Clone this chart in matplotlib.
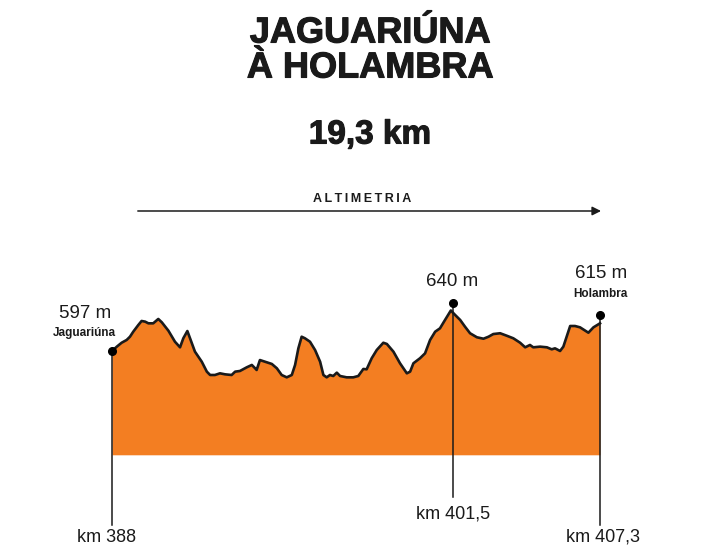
import numpy as np
import matplotlib.pyplot as plt
import matplotlib.patheffects as pe

plt.rcParams['font.family'] = ['Liberation Sans', 'DejaVu Sans']

# perfil (km, altitude em m)
km = [388.00, 388.19, 388.38, 388.58, 388.71, 388.84, 389.04, 389.17, 389.31, 389.44,
      389.63, 389.83, 389.97, 390.23, 390.49, 390.69, 390.82, 390.98, 391.11, 391.28,
      391.55, 391.75, 391.88, 392.07, 392.27, 392.47, 392.73, 392.87, 393.06, 393.33,
      393.53, 393.66, 393.72, 393.85, 394.05, 394.32, 394.52, 394.71, 394.91, 395.11,
      395.24, 395.37, 395.50, 395.63, 395.83, 396.03, 396.23, 396.36, 396.49, 396.62,
      396.75, 396.89, 397.02, 397.28, 397.54, 397.74, 397.94, 398.07, 398.27, 398.47,
      398.73, 398.87, 399.13, 399.39, 399.66, 399.79, 399.92, 400.18, 400.38, 400.58,
      400.78, 400.97, 401.17, 401.40, 401.57, 401.77, 401.96, 402.16, 402.43, 402.69,
      402.89, 403.08, 403.35, 403.61, 403.87, 404.14, 404.34, 404.53, 404.66, 404.93,
      405.20, 405.39, 405.52, 405.72, 405.85, 406.12, 406.31, 406.51, 406.84, 407.04,
      407.30]
alt = [597.0, 600.9, 604.4, 606.9, 609.8, 614.3, 620.3, 623.9, 623.3, 621.8,
       621.8, 625.7, 622.7, 615.2, 605.3, 600.3, 608.4, 614.9, 606.9, 596.4,
       587.4, 578.5, 575.5, 575.5, 577.0, 576.1, 575.5, 578.5, 579.1, 582.4,
       584.5, 581.5, 580.0, 588.9, 587.4, 585.4, 581.5, 575.5, 573.4, 575.5,
       584.5, 599.4, 609.8, 608.4, 605.3, 597.9, 587.4, 575.5, 573.4, 575.5,
       574.6, 577.6, 574.6, 573.4, 573.4, 574.6, 580.9, 580.6, 590.5, 597.9,
       604.4, 603.3, 596.4, 586.0, 577.0, 578.5, 586.0, 590.5, 594.9, 606.9,
       614.3, 617.3, 624.8, 633.3, 629.3, 624.8, 618.8, 612.9, 609.3, 608.0,
       609.8, 612.2, 612.9, 610.7, 608.4, 604.4, 600.3, 602.4, 600.3, 600.9,
       600.3, 598.5, 599.4, 597.0, 600.9, 619.4, 619.4, 618.2, 613.4, 618.2,
       621.8]
base_alt = 504

# marcos
mark_km = [388.0, 401.5, 407.3]
mark_alt = [597, 640, 629]
mark_bottom = [441, 466, 441]
alt_labels = ['597 m', '640 m', '615 m']
place_labels = ['Jaguariúna', '', 'Holambra']
km_labels = ['km 388', 'km 401,5', 'km 407,3']

orange = '#f37e22'
ink = '#1a1a1a'

fig = plt.figure(figsize=(7.09, 5.51), dpi=100)
ax = fig.add_axes([0, 0, 1, 1])
ax.set_xlim(383.57, 411.61)
ax.set_ylim(417.8, 911.5)
ax.axis('off')

ax.fill_between(km, alt, base_alt, color=orange, lw=0, zorder=1)
ax.plot(km, alt, color=ink, lw=1.9, solid_joinstyle='round', zorder=2)

for i in range(3):
    ax.plot([mark_km[i], mark_km[i]], [mark_bottom[i], mark_alt[i]], color=ink, lw=1.1, zorder=3)
    ax.plot(mark_km[i], mark_alt[i], 'o', color='black', ms=5.5, zorder=4)

# rótulos de altitude / local
ax.text(386.95, 631, alt_labels[0], fontsize=13.5, ha='center', va='center', color=ink)
ax.text(386.9, 613, place_labels[0], fontsize=8.5, fontweight='bold', ha='center', va='center', color=ink)
ax.text(401.45, 659, alt_labels[1], fontsize=13.5, ha='center', va='center', color=ink)
ax.text(407.35, 666, alt_labels[2], fontsize=13.5, ha='center', va='center', color=ink)
ax.text(407.3, 648, place_labels[2], fontsize=8.5, fontweight='bold', ha='center', va='center', color=ink)

ax.text(387.8, 430, km_labels[0], fontsize=13, ha='center', va='center', color=ink)
ax.text(401.5, 451, km_labels[1], fontsize=13, ha='center', va='center', color=ink)
ax.text(407.4, 430, km_labels[2], fontsize=13, ha='center', va='center', color=ink)

# título
thick = [pe.withStroke(linewidth=0.8, foreground=ink)]
fig.text(0.522, 1 - 33/551, 'JAGUARIÚNA', fontsize=26, fontweight='heavy', ha='center', va='center',
         color=ink, path_effects=thick)
fig.text(0.522, 1 - 68/551, 'À HOLAMBRA', fontsize=26, fontweight='heavy', ha='center', va='center',
         color=ink, path_effects=thick)
fig.text(0.522, 1 - 135/551, '19,3 km', fontsize=24, fontweight='heavy', ha='center', va='center',
         color=ink, path_effects=thick)

# seta altimetria
arrow_y = 911.5 - 211*0.896
ax.annotate('', xy=(407.45, arrow_y), xytext=(383.57 + 135/25.28, arrow_y),
            arrowprops=dict(arrowstyle='-|>', color=ink, lw=1.1, mutation_scale=13))
fig.text(0.511, 1 - 199/551, '\u2009'.join('ALTIMETRIA'), fontsize=9, fontweight='bold',
         ha='center', va='center', color=ink)

plt.savefig('out.png', dpi=100)
